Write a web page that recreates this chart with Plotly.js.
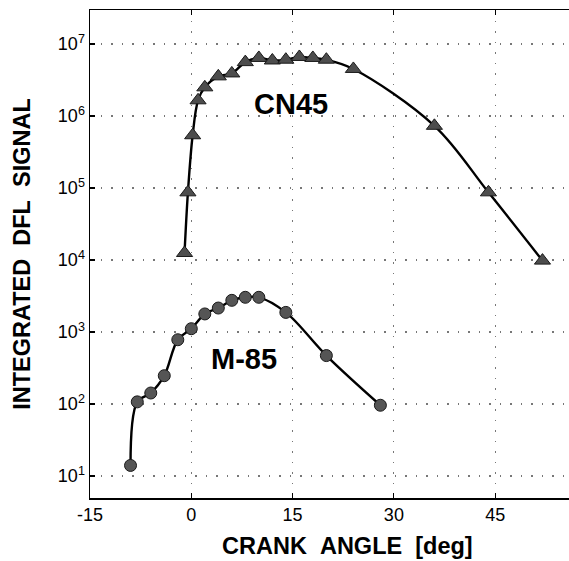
<!DOCTYPE html>
<html>
<head>
<meta charset="utf-8">
<script src="https://cdn.plot.ly/plotly-3.0.1.min.js"></script>
<style>html,body{margin:0;padding:0;background:#fff;}#chart{width:569px;height:561px;}</style>
</head>
<body>
<div id="chart"></div>
<script>
// CN45 series (triangles)
const cn45Angle = [-1, -0.5, 0.2, 1, 2, 4, 6, 8, 10, 12, 14, 16, 18, 20, 24, 36, 44, 52];
const cn45Signal = [1.25e4, 8.7e4, 5.4e5, 1.65e6, 2.5e6, 3.55e6, 3.9e6, 5.6e6, 6.4e6, 5.9e6, 6.05e6, 6.6e6, 6.4e6, 6.05e6, 4.5e6, 7.3e5, 8.7e4, 9.8e3];
// M-85 series (circles)
const m85Angle = [-9, -8, -6, -4, -2, 0, 2, 4, 6, 8, 10, 14, 20, 28];
const m85Signal = [14, 107, 142, 247, 780, 1110, 1780, 2150, 2750, 3030, 3030, 1870, 470, 96];
// tick labels
const xTickVals = [-15, 0, 15, 30, 45];
const xTickText = ['-15', '0', '15', '30', '45'];
const yTickVals = [10, 100, 1000, 1e4, 1e5, 1e6, 1e7];
const yTickText = ['10<sup>1</sup>', '10<sup>2</sup>', '10<sup>3</sup>', '10<sup>4</sup>', '10<sup>5</sup>', '10<sup>6</sup>', '10<sup>7</sup>'];

const FONT = 'Liberation Sans, Arial, Helvetica, sans-serif';

const traces = [
  {
    x: cn45Angle, y: cn45Signal, type: 'scatter', mode: 'lines+markers',
    line: {color: '#000', width: 2.4, shape: 'spline', smoothing: 1},
    marker: {symbol: 'triangle-up', size: 14, color: '#4d4d4d', line: {color: '#1a1a1a', width: 1}},
    hoverinfo: 'skip'
  },
  {
    x: m85Angle, y: m85Signal, type: 'scatter', mode: 'lines+markers',
    line: {color: '#000', width: 2.4, shape: 'spline', smoothing: 1},
    marker: {symbol: 'circle', size: 12, color: '#555555', line: {color: '#1a1a1a', width: 1}},
    hoverinfo: 'skip'
  }
];

const layout = {
  width: 569, height: 561,
  margin: {l: 90, r: 0, t: 10, b: 63},
  paper_bgcolor: '#fff', plot_bgcolor: '#fff',
  showlegend: false,
  font: {family: FONT, color: '#000'},
  xaxis: {
    range: [-15, 55.93],
    tickvals: xTickVals, ticktext: xTickText,
    tickfont: {family: FONT, size: 18, color: '#000'},
    ticks: 'inside', ticklen: 5, tickcolor: '#000', tickwidth: 1.2,
    showline: true, linecolor: '#000', linewidth: 1.5, mirror: 'ticks',
    showgrid: true, gridcolor: '#777', gridwidth: 1.2, griddash: '1.5px,9px',
    zeroline: false
  },
  yaxis: {
    type: 'log',
    range: [0.694, 7.472],
    tickvals: yTickVals, ticktext: yTickText,
    tickfont: {family: FONT, size: 18, color: '#000'},
    ticks: 'inside', ticklen: 5, tickcolor: '#000', tickwidth: 1.2,
    showline: true, linecolor: '#000', linewidth: 1.5, mirror: false,
    showgrid: true, gridcolor: '#777', gridwidth: 1.2, griddash: '1.5px,9px',
    zeroline: false,
    title: {text: 'INTEGRATED&nbsp;&nbsp;DFL&nbsp;&nbsp;SIGNAL', font: {family: FONT, size: 23.5, color: '#000', weight: 'bold'}, standoff: 20}
  },
  annotations: [
    {xref: 'paper', yref: 'paper', x: (347 - 90) / 479, y: -0.098, xanchor: 'center', yanchor: 'middle',
     text: '<b>CRANK&nbsp;&nbsp;ANGLE&nbsp;&nbsp;[deg]</b>', showarrow: false,
     font: {family: FONT, size: 23.5, color: '#000'}},
    {xref: 'x', yref: 'y', x: 14.7, y: 6.171, text: '<b>CN45</b>', showarrow: false,
     xanchor: 'center', yanchor: 'middle', font: {family: FONT, size: 29, color: '#000'}},
    {xref: 'x', yref: 'y', x: 7.8, y: 2.629, text: '<b>M-85</b>', showarrow: false,
     xanchor: 'center', yanchor: 'middle', font: {family: FONT, size: 29, color: '#000'}}
  ]
};

Plotly.newPlot('chart', traces, layout, {displayModeBar: false, staticPlot: true});
</script>
</body>
</html>
